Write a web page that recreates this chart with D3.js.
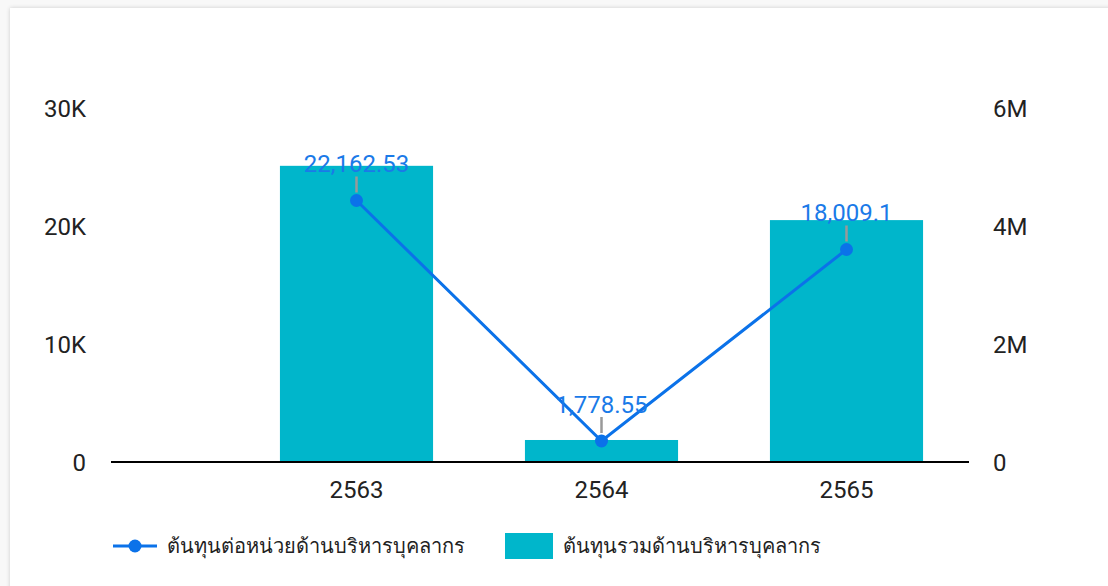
<!DOCTYPE html>
<html>
<head>
<meta charset="utf-8">
<script src="https://cdn.jsdelivr.net/npm/d3@7"></script>
<style>
  body { margin:0; background:#f8f8f8; }
  #card { position:absolute; left:10px; top:8px; width:1110px; height:590px; background:#fff;
          box-shadow:0 0 4px rgba(0,0,0,0.18); }
  svg { position:absolute; left:0; top:0; }
</style>
</head>
<body>
<div id="card"></div>
<svg width="1108" height="586"></svg>
<script>
// données
var annees = ["2563", "2564", "2565"]
var coutTotal = [5020000, 373000, 4100000]      // barres, axe droit
var coutUnitaire = [22162.53, 1778.55, 18009.1]  // ligne, axe gauche
var ticksGauche = [0, 10000, 20000, 30000]
var ticksDroite = [0, 2000000, 4000000, 6000000]
var legende = ["ต้นทุนต่อหน่วยด้านบริหารบุคลากร", "ต้นทุนรวมด้านบริหารบุคลากร"]

var svg = d3.select("svg")
var police = "Roboto, 'Noto Sans', sans-serif"
var bleu = "#0b72e9"
var cyan = "#00b6cb"

// une bande vide à gauche, comme dans l'original
var x = d3.scaleBand().domain([""].concat(annees)).range([-11, 969]).padding(0)
var yG = d3.scaleLinear().domain([0, 30000]).range([462, 108])
var yD = d3.scaleLinear().domain([0, 6000000]).range([462, 108])
var largeur = x.bandwidth() * 0.625

// barres
svg.selectAll("rect.barre")
  .data(annees)
  .enter().append("rect")
  .attr("class", "barre")
  .attr("x", function(d){ return x(d) + x.bandwidth()/2 - largeur/2 })
  .attr("y", function(d, i){ return yD(coutTotal[i]) })
  .attr("width", largeur)
  .attr("height", function(d, i){ return yD(0) - yD(coutTotal[i]) })
  .attr("fill", cyan)

// axe x
svg.append("line")
  .attr("x1", 111).attr("x2", 969)
  .attr("y1", yG(0)).attr("y2", yG(0))
  .attr("style", "stroke:#000;stroke-width:2")

var axeX = d3.axisBottom(x).tickSize(0).tickPadding(19)
  .tickValues(annees)
svg.append("g").attr("transform", "translate(0," + yG(0) + ")").call(axeX)
  .call(function(g){ g.select(".domain").remove() })
  .selectAll("text").attr("font-size", 24).attr("font-family", police).attr("fill", "#222")

// axe gauche
var axeG = d3.axisLeft(yG).tickValues(ticksGauche).tickSize(0).tickPadding(0)
  .tickFormat(function(d){ return d == 0 ? "0" : (d/1000) + "K" })
svg.append("g").attr("transform", "translate(86,1)").call(axeG)
  .call(function(g){ g.select(".domain").remove() })
  .selectAll("text").attr("font-size", 24).attr("font-family", police).attr("fill", "#222")

// axe droit
var axeD = d3.axisRight(yD).tickValues(ticksDroite).tickSize(0).tickPadding(0)
  .tickFormat(function(d){ return d == 0 ? "0" : (d/1000000) + "M" })
svg.append("g").attr("transform", "translate(993,1)").call(axeD)
  .call(function(g){ g.select(".domain").remove() })
  .selectAll("text").attr("font-size", 24).attr("font-family", police).attr("fill", "#222")

// ligne
var cx = function(d, i){ return x(annees[i]) + x.bandwidth()/2 }
var ligne = d3.line()
  .x(function(d, i){ return cx(d, i) })
  .y(function(d){ return yG(d) })
svg.append("path")
  .datum(coutUnitaire)
  .attr("d", ligne)
  .attr("style", "fill:none;stroke:" + bleu + ";stroke-width:3")

// petits traits gris des étiquettes
svg.selectAll("line.trait")
  .data(coutUnitaire)
  .enter().append("line")
  .attr("x1", cx).attr("x2", cx)
  .attr("y1", function(d){ return yG(d) - 8 })
  .attr("y2", function(d){ return yG(d) - 24 })
  .attr("style", "stroke:#999;stroke-width:2.5")

svg.selectAll("circle.point")
  .data(coutUnitaire)
  .enter().append("circle")
  .attr("cx", cx)
  .attr("cy", function(d){ return yG(d) })
  .attr("r", 6.5)
  .attr("fill", bleu)

var fmt = d3.format(",")
svg.selectAll("text.etiquette")
  .data(coutUnitaire)
  .enter().append("text")
  .attr("x", cx)
  .attr("y", function(d){ return yG(d) - 28 })
  .attr("text-anchor", "middle")
  .attr("font-size", 24)
  .attr("font-family", police)
  .attr("fill", "#1a7ae8")
  .text(function(d){ return fmt(d) })

// légende
svg.append("line")
  .attr("x1", 113).attr("x2", 157).attr("y1", 546).attr("y2", 546)
  .attr("style", "stroke:" + bleu + ";stroke-width:3")
svg.append("circle").attr("cx", 135).attr("cy", 546).attr("r", 6.5).attr("fill", bleu)
svg.append("text").text(legende[0])
  .attr("x", 167).attr("y", 553)
  .attr("font-size", 20).attr("font-family", "'Liberation Serif', serif").attr("fill", "#222")

svg.append("rect").attr("x", 505).attr("y", 533).attr("width", 48).attr("height", 26).attr("fill", cyan)
svg.append("text").text(legende[1])
  .attr("x", 563).attr("y", 553)
  .attr("font-size", 20).attr("font-family", "'Liberation Serif', serif").attr("fill", "#222")
</script>
</body>
</html>
